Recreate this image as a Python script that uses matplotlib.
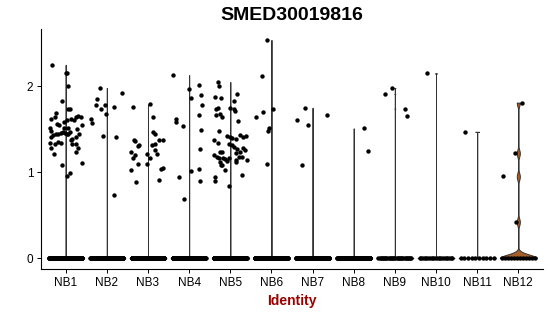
import numpy as np
import matplotlib
matplotlib.use("Agg")
import matplotlib.pyplot as plt

plt.rcParams['font.family'] = ['Liberation Sans', 'DejaVu Sans']

gene = "SMED30019816"
groups = ["NB1", "NB2", "NB3", "NB4", "NB5", "NB6",
          "NB7", "NB8", "NB9", "NB10", "NB11", "NB12"]

# non-zero expression values per cluster + jitter offsets
expr_nb1 = [2.25, 2.15, 2.15, 2.00, 1.74, 1.73, 1.83, 1.69, 1.62, 1.64, 1.51, 1.48,
            1.56, 1.55, 1.58, 1.61, 1.62, 1.61, 1.64, 1.65, 1.64, 1.55, 1.50, 1.44,
            1.41, 1.37, 1.39, 1.41, 1.43, 1.44, 1.44, 1.46, 1.47, 1.46, 1.45, 1.44,
            1.47, 1.52, 1.52, 1.34, 1.33, 1.35, 1.34, 1.33, 1.33, 1.28, 1.21, 1.28,
            1.23, 1.11, 1.08, 0.99, 0.96]
jit_nb1 = [-0.33, 0.00, 0.04, 0.05, 0.06, 0.10, -0.10, -0.23, -0.36, -0.27, -0.37, -0.36,
           -0.21, -0.16, -0.05, 0.02, 0.14, 0.19, 0.26, 0.30, 0.36, 0.40, 0.28, 0.33,
           0.24, 0.13, 0.16, -0.35, -0.31, -0.24, -0.19, -0.11, -0.06, -0.02, 0.02, 0.06,
           0.10, -0.05, 0.05, -0.37, -0.27, -0.19, -0.11, 0.16, 0.26, -0.36, -0.28, 0.29,
           0.24, 0.39, -0.09, 0.10, 0.03]

expr_nb2 = [1.62, 1.57, 1.85, 1.98, 1.78, 1.73, 1.78, 1.68, 1.42, 1.76, 1.41, 0.73, 1.92]
jit_nb2 = [-0.39, -0.35, -0.23, -0.17, -0.27, -0.15, -0.05, -0.02, -0.09, 0.17, 0.22, 0.18, 0.38]

expr_nb3 = [1.76, 1.23, 1.20, 1.16, 1.37, 1.36, 1.30, 1.32, 1.09, 1.02, 0.89, 1.21, 1.09,
            1.79, 1.64, 1.47, 1.45, 1.32, 1.33, 1.26, 1.16, 1.37, 1.38, 0.91, 1.04, 1.05, 1.21]
jit_nb3 = [-0.36, -0.41, -0.32, -0.36, -0.35, -0.31, -0.24, -0.22, -0.24, -0.41, -0.28, -0.03, -0.03,
           0.06, 0.11, 0.12, 0.17, 0.10, 0.18, 0.16, 0.06, 0.27, 0.36, 0.27, 0.32, 0.36, 0.23]

expr_nb4 = [2.13, 1.62, 1.59, 1.54, 0.94, 0.69, 1.97, 1.86, 1.01, 2.02, 1.90, 1.78,
            1.66, 1.49, 1.27, 1.04, 0.90]
jit_nb4 = [-0.38, -0.33, -0.33, -0.15, -0.24, -0.12, 0.00, 0.05, 0.04, 0.24, 0.29, 0.31,
           0.24, 0.28, 0.26, 0.24, 0.26]

expr_nb5 = [2.05, 2.00, 1.88, 1.86, 1.91, 1.83, 1.74, 1.75, 1.75, 1.74, 1.71, 1.67, 1.68,
            1.64, 1.60, 1.48, 1.37, 1.34, 1.42, 1.41, 1.40, 1.39, 1.43, 1.41, 1.42, 1.33,
            1.32, 1.29, 1.27, 1.28, 1.26, 1.24, 1.22, 1.20, 1.23, 1.24, 1.18, 1.16, 1.17,
            1.15, 1.13, 1.12, 1.08, 1.08, 1.17, 1.14, 1.18, 1.18, 1.14, 1.12, 1.02, 0.97,
            0.94, 0.90, 0.84]
jit_nb5 = [-0.30, -0.28, -0.36, -0.23, 0.16, 0.10, -0.35, -0.30, -0.01, 0.09, 0.11, -0.35, -0.25,
           -0.19, 0.18, -0.28, -0.39, -0.30, -0.07, -0.01, 0.03, 0.14, 0.24, 0.30, 0.39, -0.04,
           0.04, 0.09, 0.17, 0.32, 0.36, 0.24, 0.14, -0.39, -0.25, -0.19, -0.33, -0.28, -0.17,
           -0.12, -0.07, -0.25, -0.22, -0.19, -0.02, 0.15, 0.22, 0.29, 0.40, 0.15, -0.13, 0.29,
           -0.38, -0.36, -0.04]

expr_nb6 = [2.54, 2.12, 1.64, 1.70, 1.73, 1.51, 1.48, 1.10]
jit_nb6 = [-0.10, -0.24, -0.38, -0.21, 0.05, -0.06, -0.08, -0.11]

expr_nb7 = [1.75, 1.61, 1.55, 1.66, 1.08]
jit_nb7 = [-0.19, -0.37, -0.11, 0.36, -0.25]

expr_nb8 = [1.51, 1.25]
jit_nb8 = [0.26, 0.34]

expr_nb9 = [1.98, 1.91, 1.74, 1.65]
jit_nb9 = [-0.06, -0.24, 0.24, 0.29]

expr_nb10 = [2.15]
jit_nb10 = [-0.22]

expr_nb11 = [1.47]
jit_nb11 = [-0.30]

expr_nb12 = [1.81, 1.22, 0.95, 0.42]
jit_nb12 = [0.10, -0.08, -0.38, -0.06]

# cells with zero expression in each cluster
n_zero = [250, 250, 250, 250, 250, 250, 250, 250, 30, 20, 10, 12]

expr_all = [expr_nb1, expr_nb2, expr_nb3, expr_nb4, expr_nb5, expr_nb6,
            expr_nb7, expr_nb8, expr_nb9, expr_nb10, expr_nb11, expr_nb12]
jit_all = [jit_nb1, jit_nb2, jit_nb3, jit_nb4, jit_nb5, jit_nb6,
           jit_nb7, jit_nb8, jit_nb9, jit_nb10, jit_nb11, jit_nb12]

colors = ["#E41A1C", "#377EB8", "#4DAF4A", "#984EA3", "#FF7F00", "#FFD92F",
          "#66C2A5", "#FC8D62", "#8DA0CB", "#E78AC3", "#A6D854", "#A65F2A"]


def bw_nrd0(x):
    # R's bw.nrd0, with a tiny floor instead of the sd fallback
    q75, q25 = np.percentile(x, [75, 25])
    lo = min(np.std(x, ddof=1), (q75 - q25) / 1.34)
    lo = max(lo, 1e-3)
    return 0.9 * lo * len(x) ** -0.2


def violin_shape(x, n=512):
    grid = np.linspace(x.min(), x.max(), n)
    bw = bw_nrd0(x)
    dens = np.exp(-0.5 * ((grid[:, None] - x[None, :]) / bw) ** 2).sum(axis=1)
    return grid, dens / dens.max() * 0.45


fig = plt.figure(figsize=(5.5, 3.16), dpi=100)
ax = fig.add_axes([41 / 550, 1 - 269 / 316, 502 / 550, 240 / 316])

ymax = 0
for i, (vals, jit, nz, col) in enumerate(zip(expr_all, jit_all, n_zero, colors)):
    pos = i + 1
    data = np.concatenate([np.zeros(nz), np.array(vals)])
    ymax = max(ymax, data.max())
    y, w = violin_shape(data)
    ax.fill_betweenx(y, pos - w, pos + w, facecolor=col, edgecolor="#333333",
                     linewidth=0.7, zorder=2)
    zx = pos + np.linspace(-0.4, 0.4, nz)
    ax.scatter(zx, np.zeros(nz), s=10, color="black", linewidths=0, zorder=3)
    ax.scatter(pos + np.array(jit), vals, s=10, color="black", linewidths=0, zorder=3)

ax.set_xlim(0.4, len(groups) + 0.6)
ax.set_ylim(-0.05 * ymax, 1.05 * ymax)
ax.set_xticks(range(1, len(groups) + 1))
ax.set_xticklabels(groups)
ax.set_yticks([0, 1, 2])
ax.spines["top"].set_visible(False)
ax.spines["right"].set_visible(False)
for s in ["left", "bottom"]:
    ax.spines[s].set_linewidth(0.8)
ax.tick_params(length=3, width=0.7, labelsize=8.5, pad=2.5, colors="black")

ax.set_xlabel("Identity", fontsize=10, fontweight="bold", color="#990000", labelpad=3.5)
fig.text((41 + 543) / 2 / 550, 1 - 16 / 316, gene, ha="center", va="center",
         fontsize=14, fontweight="bold")

plt.savefig("out.png", dpi=100)
plt.close()
